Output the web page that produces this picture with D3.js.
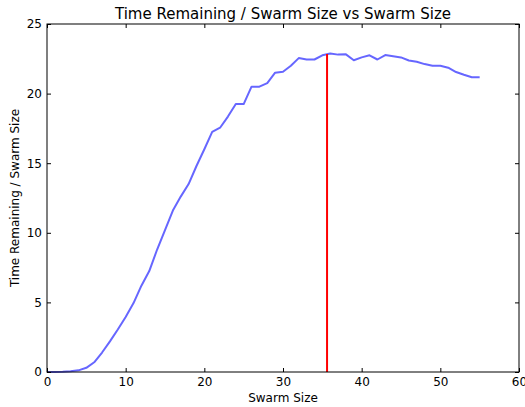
<!DOCTYPE html>
<html>
<head>
<meta charset="utf-8">
<script src="https://cdn.jsdelivr.net/npm/d3@7"></script>
<style>
  body { margin: 0; background: #fff; }
  svg text { font-family: "DejaVu Sans", sans-serif; fill: #000; }
  .axis path, .axis line { stroke: #000; }
</style>
</head>
<body>
<svg id="chart" width="525" height="407"></svg>
<script>
// swarm sizes and the measured time remaining per swarm member
var swarmSize = d3.range(0, 56);
var timePerSize = [
	0, 0, 0.01, 0.05, 0.12, 0.3, 0.7, 1.4, 2.2, 3.05,
	3.95, 4.95, 6.2, 7.25, 8.8, 10.2, 11.6, 12.6, 13.5, 14.8,
	16.0, 17.25, 17.55, 18.35, 19.25, 19.25, 20.5, 20.5, 20.75, 21.5,
	21.57, 22.0, 22.55, 22.45, 22.45, 22.75, 22.88, 22.8, 22.82, 22.4,
	22.6, 22.75, 22.45, 22.77, 22.68, 22.6, 22.38, 22.29, 22.12, 22.0,
	22.0, 21.86, 21.55, 21.35, 21.17, 21.17
];
// position and height of the red marker line
var markerX = 35.6;
var markerTop = 22.85;

var xTicks = [0, 10, 20, 30, 40, 50, 60];
var yTicks = [0, 5, 10, 15, 20, 25];

var svg = d3.select("#chart");
var margin = {top: 24, right: 6, bottom: 35, left: 47};
var width = +svg.attr("width") - margin.left - margin.right;
var height = +svg.attr("height") - margin.top - margin.bottom;

var x = d3.scaleLinear().domain([0, 60]).range([0, width]);
var y = d3.scaleLinear().domain([0, 25]).range([height, 0]);

var g = svg.append("g")
	.attr("transform", "translate(" + margin.left + "," + margin.top + ")");

// the data line
var line = d3.line()
	.x(function(d, i) { return x(swarmSize[i]); })
	.y(function(d) { return y(d); });

g.append("path")
	.datum(timePerSize)
	.attr("fill", "none")
	.attr("stroke", "#0000ff")
	.attr("stroke-opacity", 0.6)
	.attr("stroke-width", 2)
	.attr("stroke-linejoin", "round")
	.attr("d", line);

// red vertical marker
g.append("line")
	.attr("x1", x(markerX))
	.attr("x2", x(markerX))
	.attr("y1", y(0))
	.attr("y2", y(markerTop))
	.attr("stroke", "#ff0000")
	.attr("stroke-width", 2);

// axes with ticks pointing inward, on all four sides
g.append("g")
	.attr("class", "axis")
	.attr("transform", "translate(0," + height + ")")
	.call(d3.axisBottom(x).tickValues(xTicks).tickSize(-4).tickSizeOuter(0).tickPadding(5))
	.selectAll("text").attr("font-size", 12);

g.append("g")
	.attr("class", "axis")
	.call(d3.axisLeft(y).tickValues(yTicks).tickSize(-4).tickSizeOuter(0).tickPadding(5))
	.selectAll("text").attr("font-size", 12);

g.append("g")
	.attr("class", "axis")
	.call(d3.axisTop(x).tickValues(xTicks).tickSize(-4).tickSizeOuter(0).tickFormat(""));

g.append("g")
	.attr("class", "axis")
	.attr("transform", "translate(" + width + ",0)")
	.call(d3.axisRight(y).tickValues(yTicks).tickSize(-4).tickSizeOuter(0).tickFormat(""));

g.selectAll(".axis .domain").remove();

// frame
g.append("rect")
	.attr("width", width)
	.attr("height", height)
	.attr("fill", "none")
	.attr("stroke", "#000")
	.attr("stroke-width", 1);

// title and axis labels
svg.append("text")
	.attr("x", margin.left + width / 2)
	.attr("y", 19)
	.attr("text-anchor", "middle")
	.attr("font-size", 15)
	.text("Time Remaining / Swarm Size vs Swarm Size");

svg.append("text")
	.attr("x", margin.left + width / 2)
	.attr("y", 402)
	.attr("text-anchor", "middle")
	.attr("font-size", 12)
	.text("Swarm Size");

svg.append("text")
	.attr("transform", "translate(19," + (margin.top + height / 2) + ") rotate(-90)")
	.attr("text-anchor", "middle")
	.attr("font-size", 12)
	.text("Time Remaining / Swarm Size");
</script>
</body>
</html>
